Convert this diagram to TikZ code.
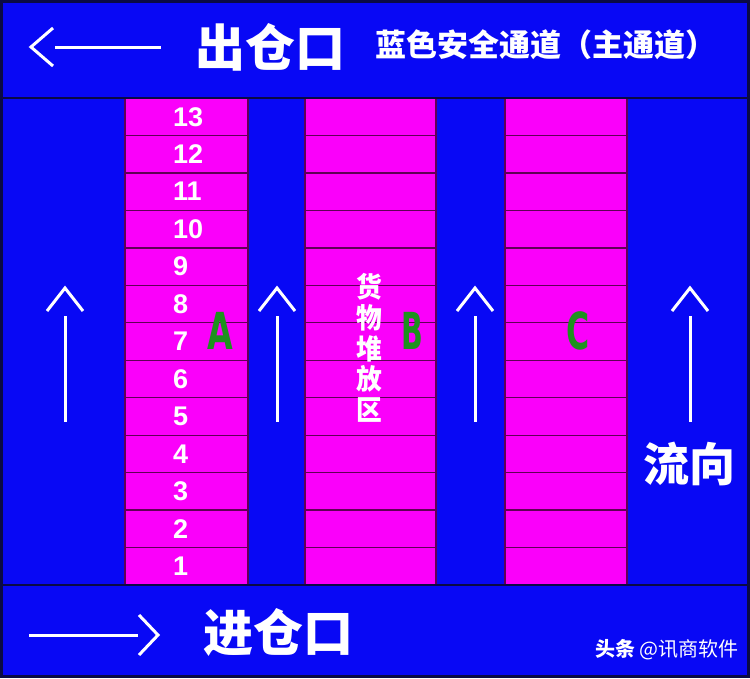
\documentclass[tikz,border=0pt]{standalone}
\usepackage{fontspec}
\usepackage{graphicx}
\setmainfont{Liberation Sans}
\newfontfamily\cjk{Noto Sans CJK SC}
\newfontfamily\heavy{DejaVu Sans}
\definecolor{bgblue}{RGB}{8,8,245}
\definecolor{mag}{RGB}{250,0,250}
\definecolor{rackedge}{RGB}{95,0,85}
\definecolor{navy}{RGB}{10,10,70}
\definecolor{grn}{RGB}{30,145,30}
\begin{document}
\begin{tikzpicture}[x=1pt,y=-1pt,
  lbl/.style={text=white,inner sep=0pt},
  bigcjk/.style={lbl,font=\cjk\bfseries\fontsize{50}{50}\selectfont},
  num/.style={lbl,anchor=west,font=\bfseries\fontsize{27}{27}\selectfont},
  rackletter/.style={inner sep=0pt,text=grn,font=\heavy\bfseries\fontsize{51}{51}\selectfont},
  arrw/.style={white,line width=3pt,line join=miter},
  cell/.style={draw=rackedge,line width=1.3pt,fill=mag}]
\useasboundingbox (0,0) rectangle (750,678);
\fill[bgblue] (0,0) rectangle (750,678);
% racks
\foreach \l/\r in {125/248,305/436,505/627}{
  \foreach \i in {0,...,12}{
    \draw[cell] (\l,{98+\i*37.4615}) rectangle (\r,{98+(\i+1)*37.4615});
  }
}
% separating lines and frame
\draw[navy,line width=2pt] (0,98) -- (750,98);
\draw[navy,line width=2pt] (0,585) -- (750,585);
\draw[navy,line width=3pt] (1.5,1.5) rectangle (748.5,676.5);
% row numbers
\foreach \n in {1,...,13}{
  \node[num] (n\n) at (173,{585-(\n-0.5)*37.4615}) {\n};
}
% rack letters
\node[rackletter] (rA) at (220,331) {\scalebox{0.65}[1]{A}};
\node[rackletter] (rB) at (412,331) {\scalebox{0.56}[1]{B}};
\node[rackletter] (rC) at (578,331) {\scalebox{0.62}[1]{C}};
% vertical label
\node[lbl,align=center,font=\cjk\bfseries\fontsize{28}{30.6}\selectfont] (zone) at (369,348) {\scalebox{0.92}[1]{货}\\\scalebox{0.92}[1]{物}\\\scalebox{0.92}[1]{堆}\\\scalebox{0.92}[1]{放}\\\scalebox{0.92}[1]{区}};
% flow arrows
\foreach \x [count=\k] in {65,277,475,690}{
  \coordinate (tip\k) at (\x,288);
  \coordinate (tail\k) at (\x,422);
  \draw[arrw] (\x-18,311) -- (tip\k) -- (\x+18,311);
  \draw[arrw] (\x,316) -- (tail\k);
}
% top band
\coordinate (outtip) at (31,47);
\coordinate (outend) at (161,47);
\draw[arrw] (53,28) -- (outtip) -- (53,66);
\draw[arrw] (55,47) -- (outend);
\node[bigcjk] (out) at (270,47) {出仓口};
\node[lbl,font=\cjk\bfseries\fontsize{31}{31}\selectfont] (main) at (546,45) {蓝色安全通道（主通道）};
% bottom band
\coordinate (intip) at (158,635);
\coordinate (instart) at (29,635);
\draw[arrw] (instart) -- (138,635);
\draw[arrw] (139,615) -- (intip) -- (139,655);
\node[bigcjk] (in) at (278,632) {进仓口};
\node[lbl,font=\cjk\bfseries\fontsize{46}{46}\selectfont] (flow) at (689,464) {流向};
\node[lbl,font=\cjk\fontsize{20}{20}\selectfont] (wm) at (667,650) {{\bfseries 头条} @讯商软件};
\end{tikzpicture}
\end{document}
